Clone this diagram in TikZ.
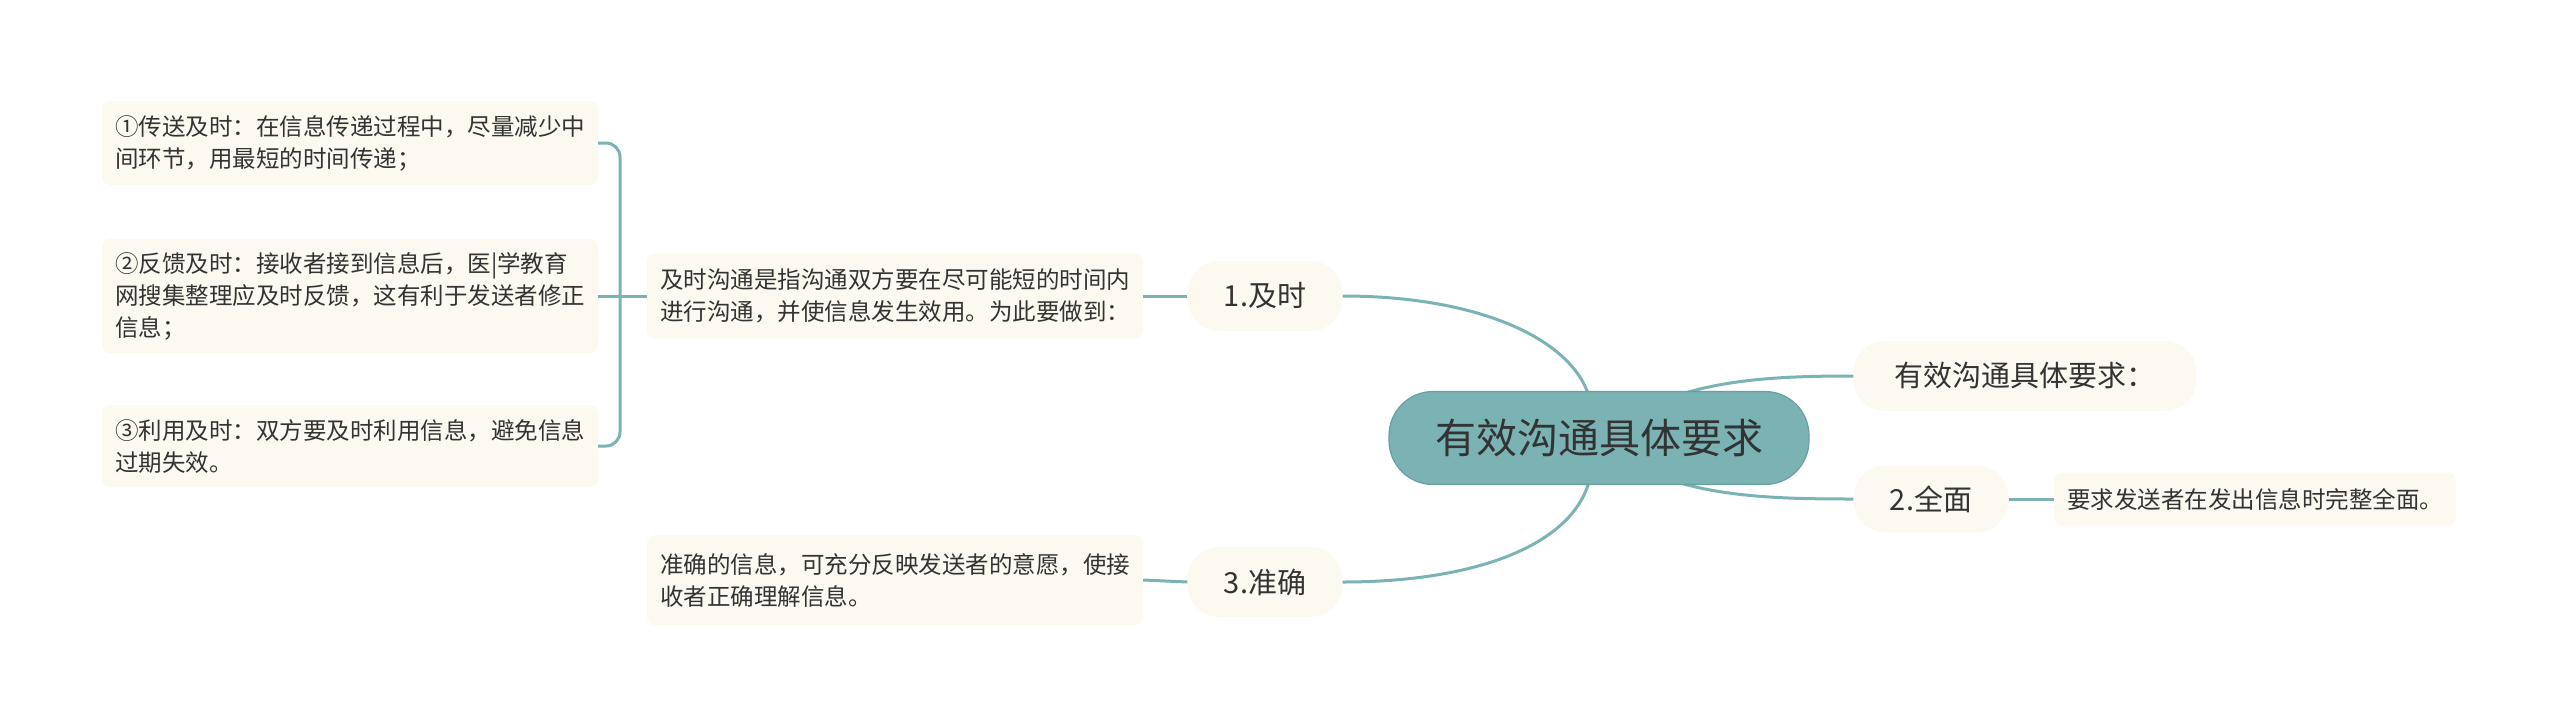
\documentclass[tikz,border=0pt]{standalone}
\usepackage{fontspec}
\setmainfont{Noto Sans CJK SC}
\usetikzlibrary{calc}
\definecolor{tealL}{HTML}{7BB3B5}
\definecolor{tealB}{HTML}{6A9FA2}
\definecolor{cream}{HTML}{FCFAF0}
\definecolor{txt}{HTML}{333333}
\begin{document}
\begin{tikzpicture}[x=1pt,y=-1pt,
  conn/.style={draw=tealL,line width=3pt},
  rootbox/.style={fill=tealL,draw=tealB,line width=1.2pt,rounded corners=44pt,minimum width=420pt,minimum height=93pt,font=\fontsize{41}{48}\selectfont,text=txt},
  lvl/.style={fill=cream,rounded corners=32pt,minimum height=70pt,font=\fontsize{29}{34}\selectfont,text=txt},
  leaf/.style={fill=cream,rounded corners=8pt,align=left,inner xsep=13pt,inner ysep=12pt,font=\fontsize{23.5}{32}\selectfont,text=txt},
]
\useasboundingbox[fill=white] (0,0) rectangle (2560,726);

% nodes
\node[lvl,minimum width=343pt] (r1) at (2025,376) {有效沟通具体要求：};
\node[lvl,minimum width=155pt,minimum height=67pt] (r2) at (1931,499) {2.全面};
\node[leaf,minimum height=53pt] (r2d) at (2255,499) {要求发送者在发出信息时完整全面。};
\node[lvl,minimum width=155pt] (l1) at (1265,296) {1.及时};
\node[leaf,minimum height=85pt] (l1d) at (895,296) {及时沟通是指沟通双方要在尽可能短的时间内\\进行沟通，并使信息发生效用。为此要做到：};
\node[lvl,minimum width=155pt] (l3) at (1265,582) {3.准确};
\node[leaf,minimum height=90pt] (l3d) at (895,580) {准确的信息，可充分反映发送者的意愿，使接\\收者正确理解信息。};
\node[leaf,minimum height=84pt] (b1) at (350,143) {①传送及时：在信息传递过程中，尽量减少中\\间环节，用最短的时间传递；};
\node[leaf,minimum height=114pt] (b2) at (350,296) {②反馈及时：接收者接到信息后，医|学教育\\网搜集整理应及时反馈，这有利于发送者修正\\信息；};
\node[leaf,minimum height=82pt] (b3) at (350,446) {③利用及时：双方要及时利用信息，避免信息\\过期失效。};

% connectors
\draw[conn] (l1.east) .. controls (1480,296) and (1575,340) .. (1590,400);
\draw[conn] (l3.east) .. controls (1480,582) and (1575,543) .. (1590,478);
\draw[conn] (1665,400) .. controls (1720,378) and (1790,376) .. (r1.west);
\draw[conn] (1665,478) .. controls (1720,498) and (1790,499) .. (r2.west);
\draw[conn] (r2.east) -- (r2d.west);
\draw[conn] (l1.west) -- (l1d.west -| l1d.east);
\draw[conn] (l3.west) -- (l3d.west -| l3d.east);
\coordinate (sp) at (620,0);
\draw[conn,rounded corners=14pt] (b1.east) -- (b1.east -| sp) -- (b3.east -| sp) -- (b3.east);
\draw[conn] (b2.east) -- (l1d.west);

\node[rootbox] (root) at (1599,438) {有效沟通具体要求};
\end{tikzpicture}
\end{document}
